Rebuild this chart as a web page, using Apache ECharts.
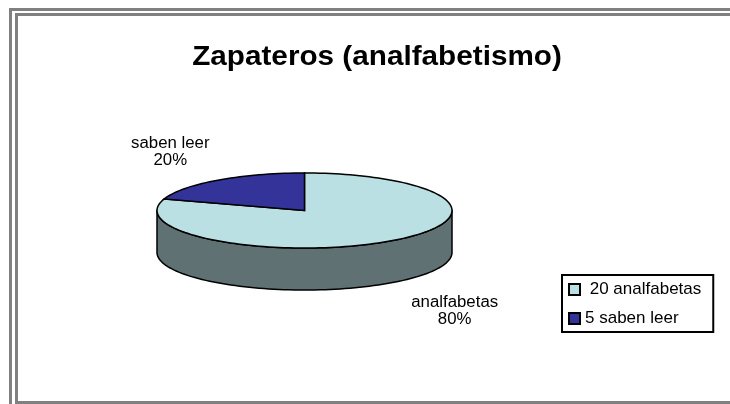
<!DOCTYPE html>
<html>
<head>
<meta charset="utf-8">
<title>Zapateros (analfabetismo)</title>
<script src="https://cdn.jsdelivr.net/npm/echarts@6/dist/echarts.min.js"></script>
<style>
  html, body { margin: 0; padding: 0; background: #fff; }
  #chart { width: 730px; height: 404px; }
</style>
</head>
<body>
<div id="chart"></div>
<script>
// datos
var categories = ['analfabetas', 'saben leer'];
var counts = [20, 5];
var legendLabels = [' 20 analfabetas', '5 saben leer'];
var titleText = 'Zapateros (analfabetismo)';

var FONT = '"Liberation Sans", Arial, sans-serif';
var topColors = ['#bbe0e3', '#333399'];
var sideColors = ['#5f7173', '#1a1a4d'];

// geometria del pastel 3D (elipse)
var pie = { cx: 304.5, cy: 210.5, rx: 147.5, ry: 37.5, depth: 42 };

var total = counts.reduce(function (a, b) { return a + b; }, 0);

function pt(theta, dy) {
  var r = theta * Math.PI / 180;
  return [pie.cx + pie.rx * Math.cos(r), pie.cy - pie.ry * Math.sin(r) + (dy || 0)];
}

// puntos de arco desde a hasta b (grados)
function arc(a, b, dy) {
  var pts = [];
  var n = Math.max(2, Math.ceil(Math.abs(a - b) / 2));
  for (var k = 0; k <= n; k++) {
    pts.push(pt(a + (b - a) * k / n, dy));
  }
  return pts;
}

function renderSlice(params, api) {
  var i = params.seriesIndex;
  var before = 0;
  for (var j = 0; j < i; j++) before += counts[j];
  var value = api.value(0);
  // empieza a las 12 y avanza en sentido horario
  var a0 = 90 - 360 * before / total;
  var a1 = 90 - 360 * (before + value) / total;

  var children = [];

  // pared lateral: solo la mitad delantera
  var lo = Math.min(a0, a1), hi = Math.max(a0, a1);
  [-360, 0, 360].forEach(function (k) {
    var s = Math.max(lo, -180 + k), e = Math.min(hi, 0 + k);
    if (e - s > 0.01) {
      var top = arc(e, s, 0);
      var bottom = arc(s, e, pie.depth);
      children.push({
        type: 'polygon',
        z2: 1,
        shape: { points: top.concat(bottom) },
        style: { fill: sideColors[i], stroke: '#000', lineWidth: 1.5, lineJoin: 'round' }
      });
    }
  });

  // cara superior
  children.push({
    type: 'polygon',
    z2: 2,
    shape: { points: [[pie.cx, pie.cy]].concat(arc(a0, a1, 0)) },
    style: { fill: topColors[i], stroke: '#000', lineWidth: 1.5, lineJoin: 'miter' }
  });

  // etiqueta
  var mid = (a0 + a1) / 2 * Math.PI / 180;
  var lx = pie.cx + 8 + pie.rx * 1.64 * Math.cos(mid);
  var ly = pie.cy - pie.ry * 1.93 * Math.sin(mid);
  if (Math.sin(mid) < 0) ly += pie.depth;
  var pct = Math.round(value / total * 100) + '%';
  children.push({
    type: 'text',
    z2: 3,
    x: lx,
    y: ly,
    scaleX: 1.05,
    style: {
      text: categories[i] + '\n' + pct,
      fill: '#000',
      font: '16px ' + FONT,
      lineHeight: 17,
      align: 'center',
      verticalAlign: 'middle',
      textAlign: 'center',
      textVerticalAlign: 'middle'
    }
  });

  return { type: 'group', children: children };
}

var series = categories.map(function (c, i) {
  return {
    type: 'custom',
    name: legendLabels[i],
    coordinateSystem: 'none',
    itemStyle: { color: topColors[i] },
    renderItem: renderSlice,
    data: [counts[i]]
  };
});

var chart = echarts.init(document.getElementById('chart'), null, { renderer: 'canvas' });

var option = {
  backgroundColor: '#ffffff',
  animation: false,
  color: topColors,
  legend: {
    orient: 'vertical',
    left: 562,
    top: 275,
    padding: [6, 12, 5, 6],
    borderColor: '#000',
    borderWidth: 2,
    itemWidth: 11,
    itemHeight: 11,
    itemGap: 12,
    icon: 'rect',
    itemStyle: { borderColor: '#000', borderWidth: 2 },
    textStyle: { fontSize: 17, fontFamily: FONT, color: '#000', lineHeight: 17 },
    selectedMode: false,
    data: legendLabels
  },
  graphic: [
    {
      type: 'rect',
      silent: true,
      shape: { x: 10.5, y: 9.5, width: 800, height: 500 },
      style: { fill: 'none', stroke: '#808080', lineWidth: 3 }
    },
    {
      type: 'rect',
      silent: true,
      shape: { x: 16.5, y: 14.5, width: 800, height: 388 },
      style: { fill: 'none', stroke: '#808080', lineWidth: 3 }
    },
    {
      type: 'text',
      silent: true,
      x: 377,
      y: 58,
      scaleX: 1.1,
      style: {
        text: titleText,
        fill: '#000',
        font: 'bold 27px ' + FONT,
        align: 'center',
        verticalAlign: 'middle',
        textAlign: 'center',
        textVerticalAlign: 'middle'
      }
    }
  ],
  series: series
};

chart.setOption(option);
</script>
</body>
</html>
